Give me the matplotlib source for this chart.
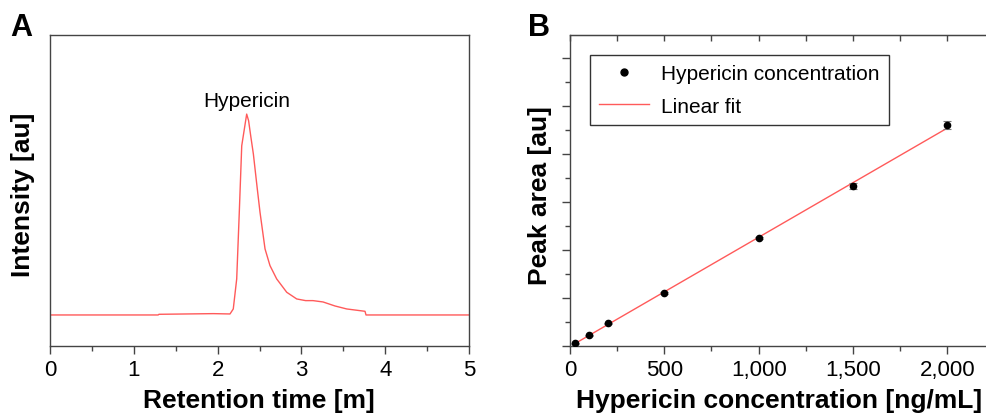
import numpy as np
import matplotlib
matplotlib.use("Agg")
import matplotlib.pyplot as plt
from matplotlib.ticker import MultipleLocator, FuncFormatter
from matplotlib.lines import Line2D

plt.rcParams['font.family'] = ['Liberation Sans', 'DejaVu Sans']

# Panel A: chromatogram (arbitrary intensity units)
time_min = [0.0, 1.29, 1.30, 1.95, 2.148, 2.187, 2.228, 2.259, 2.288, 2.347, 2.37,
            2.395, 2.427, 2.474, 2.506, 2.566, 2.625, 2.705, 2.825, 2.944,
            3.05, 3.138, 3.258, 3.40, 3.541, 3.759, 3.771, 5.0]
intensity = [9.3, 9.3, 9.5, 9.7, 9.6, 11.1, 20.1, 40.2, 60.0, 69.5, 67.5,
             63.0, 57.5, 47.0, 40.1, 29.1, 24.1, 20.1, 16.1, 14.1,
             13.6, 13.6, 13.2, 12.0, 11.1, 10.4, 9.3, 9.3]

# Panel B: calibration
conc = [25, 100, 200, 500, 1000, 1500, 2000]
peak_area = [0.056, 0.223, 0.473, 1.110, 2.256, 3.327, 4.604]
peak_err = [0.01, 0.01, 0.01, 0.02, 0.02, 0.06, 0.08]

W, H = 987, 414
fig = plt.figure(figsize=(W / 100, H / 100), dpi=100)

spine_col = '#444444'
red = '#ff5a5a'
TICK_FS = 16
LAB_FS = 19

def px_axes(l, t, r, b):
    return fig.add_axes([l / W, 1 - b / H, (r - l) / W, (b - t) / H])

# ---------------- Panel A ----------------
axA = px_axes(50, 36, 469, 347)
axA.plot(time_min, intensity, color=red, lw=1.0)
axA.set_xlim(0, 5)
axA.set_ylim(0, 93.2)
axA.set_yticks([])
axA.xaxis.set_major_locator(MultipleLocator(1))
axA.xaxis.set_minor_locator(MultipleLocator(0.5))
axA.tick_params(axis='x', which='major', direction='out', length=6, width=1,
                color=spine_col, labelsize=TICK_FS, pad=3.5)
axA.tick_params(axis='x', which='minor', direction='out', length=3.5, width=1, color=spine_col)
for s in axA.spines.values():
    s.set_color(spine_col)
    s.set_linewidth(1.0)
axA.text(2.345, 71.9, 'Hypericin', fontsize=15, ha='center', va='baseline')
fig.text(259 / W, 1 - 408 / H, 'Retention time [m]', fontsize=LAB_FS,
         fontweight='bold', ha='center', va='baseline')
fig.text(23 / W, 1 - 195 / H, 'Intensity [au]', fontsize=LAB_FS, fontweight='bold',
         ha='center', va='center', rotation=90)
fig.text(10 / W, 1 - 36 / H, 'A', fontsize=22, fontweight='bold', ha='left', va='baseline')

# ---------------- Panel B ----------------
right_px = 1010
axB = px_axes(570, 36, right_px, 347)
xmax = 2000 * (right_px - 570) / 377.3
axB.set_xlim(0, xmax)
axB.set_ylim(0, 6.48)

coef = np.polyfit(conc, peak_area, 1)
xfit = np.array([conc[0], conc[-1]])
axB.plot(xfit, np.polyval(coef, xfit), color=red, lw=1.0, zorder=2)
axB.errorbar(conc, peak_area, yerr=peak_err, fmt='none',
             ecolor='#777777', elinewidth=0.8, capsize=3, capthick=0.8, zorder=3)
axB.plot(conc, peak_area, 'o', color='black', ms=4.5, zorder=4)

axB.xaxis.set_major_locator(MultipleLocator(500))
axB.xaxis.set_minor_locator(MultipleLocator(250))
axB.xaxis.set_major_formatter(FuncFormatter(lambda v, p: f'{int(v):,}'))
axB.yaxis.set_major_locator(MultipleLocator(1))
axB.yaxis.set_minor_locator(MultipleLocator(0.5))
axB.tick_params(axis='both', which='major', direction='out', length=6, width=1,
                color=spine_col, labelsize=TICK_FS, pad=3.5)
axB.tick_params(axis='both', which='minor', direction='out', length=3.5, width=1, color=spine_col)
axB.tick_params(axis='y', labelleft=False)
sec = axB.secondary_xaxis('top')
sec.xaxis.set_major_locator(MultipleLocator(250))
sec.tick_params(direction='in', length=4, width=1, color=spine_col, labeltop=False)
sec.spines['top'].set_color(spine_col)
for s in axB.spines.values():
    s.set_color(spine_col)
    s.set_linewidth(1.0)

h_pts = Line2D([], [], marker='o', ls='none', color='black', ms=5)
h_fit = Line2D([], [], color=red, lw=1.0)
leg = axB.legend([h_pts, h_fit], ['Hypericin concentration', 'Linear fit'], loc='upper left',
                 bbox_to_anchor=(590 / W, 1 - 56 / H), bbox_transform=fig.transFigure,
                 fontsize=15, frameon=True, fancybox=False, edgecolor='black',
                 borderaxespad=0, handlelength=2.4, handletextpad=0.55,
                 borderpad=0.45, labelspacing=0.64)
leg.get_frame().set_linewidth(1.0)

fig.text(779 / W, 1 - 408 / H, 'Hypericin concentration [ng/mL]', fontsize=LAB_FS,
         fontweight='bold', ha='center', va='baseline')
fig.text(540.5 / W, 1 - 196 / H, 'Peak area [au]', fontsize=LAB_FS, fontweight='bold',
         ha='center', va='center', rotation=90)
fig.text(528 / W, 1 - 36 / H, 'B', fontsize=22, fontweight='bold', ha='left', va='baseline')

fig.savefig('out.png', dpi=100)
